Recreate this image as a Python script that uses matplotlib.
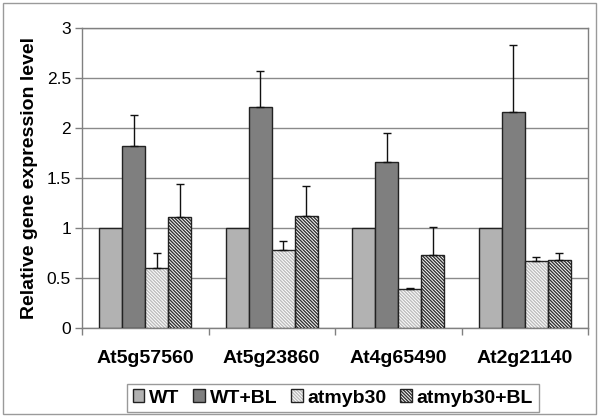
import matplotlib
matplotlib.use('Agg')
import matplotlib.pyplot as plt
import matplotlib.patches as mpatches
from matplotlib.legend_handler import HandlerTuple
import numpy as np

plt.rcParams['font.family'] = ['Liberation Sans', 'DejaVu Sans']
plt.rcParams['hatch.linewidth'] = 1.0

genes = ['At5g57560', 'At5g23860', 'At4g65490', 'At2g21140']
series = ['WT', 'WT+BL', 'atmyb30', 'atmyb30+BL']

wt = [1.0, 1.0, 1.0, 1.0]
wt_bl = [1.82, 2.21, 1.66, 2.16]
myb = [0.60, 0.78, 0.39, 0.67]
myb_bl = [1.11, 1.12, 0.73, 0.68]

wt_err = [0, 0, 0, 0]
wt_bl_err = [0.31, 0.36, 0.29, 0.67]
myb_err = [0.15, 0.09, 0.01, 0.04]
myb_bl_err = [0.33, 0.30, 0.28, 0.07]

yticks = [0, 0.5, 1, 1.5, 2, 2.5, 3]
ytick_labels = ['0', '0.5', '1', '1.5', '2', '2.5', '3']

values = [wt, wt_bl, myb, myb_bl]
errors = [wt_err, wt_bl_err, myb_err, myb_bl_err]
faces = ['#b2b2b2', '#7f7f7f', 'white', 'white']
hatches = [None, None, '\\' * 10, '\\' * 10]
hatch_cols = [None, None, '#bdbdbd', '#333333']

fig = plt.figure(figsize=(6.0, 4.19), dpi=100)
ax = fig.add_axes([82 / 600, 91 / 419, 506 / 600, 300 / 419])

x = np.arange(len(genes))
w = 0.182
offsets = [-1.5, -0.5, 0.5, 1.5]

handles = []
for i in range(4):
    pos = x + offsets[i] * w
    if hatches[i]:
        hb = ax.bar(pos, values[i], w, color='white', edgecolor=hatch_cols[i],
                    hatch=hatches[i], linewidth=0, zorder=3)
        ob = ax.bar(pos, values[i], w, facecolor='none', edgecolor='#222222',
                    linewidth=1.0, zorder=4)
        handles.append((hb[0], ob[0]))
    else:
        b = ax.bar(pos, values[i], w, color=faces[i], edgecolor='#222222',
                   linewidth=1.0, zorder=3)
        handles.append(b[0])
    if any(errors[i]):
        ax.errorbar(pos, values[i], yerr=[np.zeros(4), errors[i]], fmt='none',
                    ecolor='#111111', elinewidth=1.0, capsize=3, capthick=1.0,
                    zorder=5)

ax.set_xlim(-0.5, 3.5)
ax.set_ylim(0, 3)
ax.set_yticks(yticks)
ax.set_yticklabels(ytick_labels, fontsize=12.5)
ax.set_xticks(x)
ax.set_xticklabels(genes, fontsize=14, fontweight='bold')
ax.set_xticks(np.arange(-0.5, 4, 1), minor=True)
ax.tick_params(axis='x', which='major', length=0, pad=16)
ax.tick_params(axis='x', which='minor', length=5, color='#808080', width=1)
ax.tick_params(axis='y', length=5, color='#808080', width=1, pad=3)
ax.yaxis.grid(True, color='#8a8a8a', linewidth=1, zorder=0)
ax.set_axisbelow(True)
for s in ax.spines.values():
    s.set_color('#808080')
    s.set_linewidth(1)

ax.set_ylabel('Relative gene expression level', fontsize=14, fontweight='bold',
              labelpad=6)

leg = fig.legend(handles, series, loc='center', bbox_to_anchor=(333 / 600, 21 / 419),
                 ncol=4, frameon=True, fancybox=False, edgecolor='#808080',
                 prop={'size': 14, 'weight': 'bold'}, handlelength=0.6,
                 handleheight=0.6, handletextpad=0.25, columnspacing=0.7,
                 borderpad=0.3, borderaxespad=0,
                 handler_map={tuple: HandlerTuple(ndivide=1, pad=0)})
leg.get_frame().set_linewidth(1)

fig.patches.append(mpatches.Rectangle((3 / 600, 5 / 419), 593 / 600, 411 / 419,
                                      transform=fig.transFigure, fill=False,
                                      edgecolor='#9a9a9a', linewidth=1))

fig.savefig('out.png', dpi=100)
